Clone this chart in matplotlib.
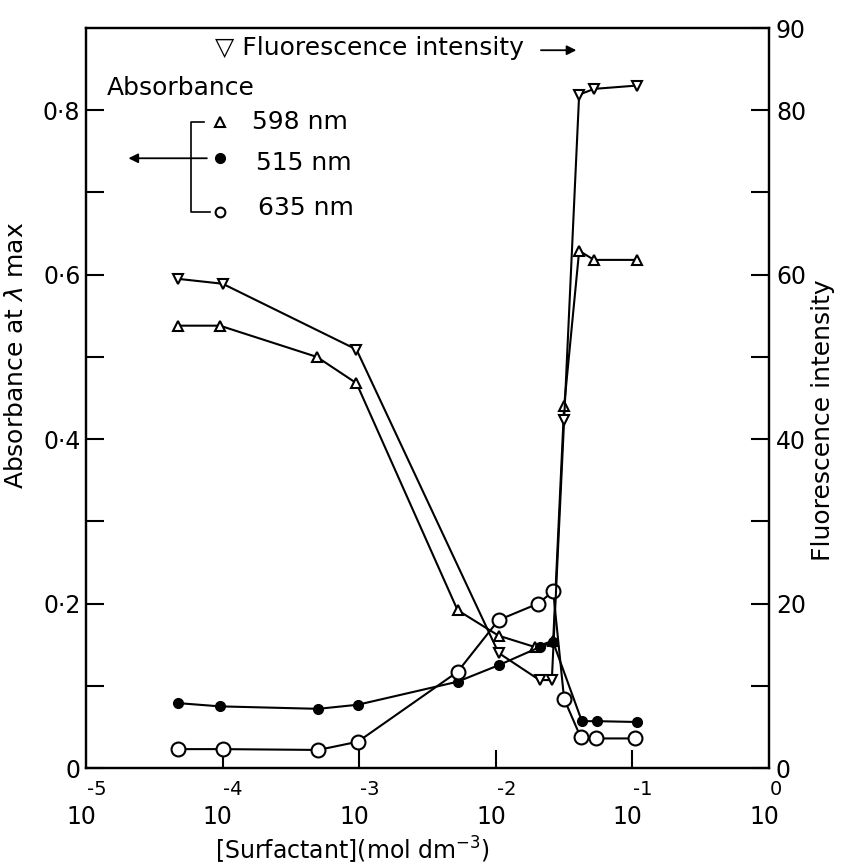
import matplotlib
matplotlib.use("Agg")
import matplotlib.pyplot as plt
import numpy as np

plt.rcParams['font.family'] = ['DejaVu Sans']

# log10 of surfactant concentration (mol dm^-3) and readings
logc_fl = [-4.33, -4.00, -3.02, -1.98, -1.68, -1.59, -1.50, -1.39, -1.28, -0.97]
fluor = [59.5, 58.9, 50.9, 14.0, 10.7, 10.7, 42.3, 81.9, 82.6, 83.0]

logc_598 = [-4.33, -4.02, -3.31, -3.02, -2.28, -1.98, -1.71, -1.58, -1.50, -1.39, -1.28, -0.97]
abs_598 = [0.538, 0.538, 0.500, 0.468, 0.192, 0.161, 0.147, 0.155, 0.440, 0.629, 0.618, 0.618]

logc_515 = [-4.33, -4.02, -3.30, -3.01, -2.28, -1.98, -1.68, -1.58, -1.37, -1.26, -0.97]
abs_515 = [0.079, 0.075, 0.072, 0.077, 0.105, 0.125, 0.147, 0.153, 0.057, 0.057, 0.056]

logc_635 = [-4.33, -4.00, -3.30, -3.01, -2.28, -1.98, -1.69, -1.58, -1.50, -1.38, -1.27, -0.98]
abs_635 = [0.023, 0.023, 0.022, 0.032, 0.117, 0.180, 0.200, 0.215, 0.084, 0.038, 0.036, 0.036]

x_exps = [-5, -4, -3, -2, -1, 0]

fig = plt.figure(figsize=(8.41, 8.65), dpi=100)
ax = fig.add_axes([0.1023, 0.1121, 0.8121, 0.8555])
ax2 = ax.twinx()

lw = 1.5
ax.plot(logc_598, abs_598, '-', color='k', lw=lw, marker='^', ms=7, mfc='white', mec='k', mew=1.5)
ax.plot(logc_515, abs_515, '-', color='k', lw=lw, marker='o', ms=7, mfc='k', mec='k')
ax.plot(logc_635, abs_635, '-', color='k', lw=lw, marker='o', ms=10, mfc='white', mec='k', mew=1.5)
ax2.plot(logc_fl, fluor, '-', color='k', lw=lw, marker='v', ms=7, mfc='white', mec='k', mew=1.5)

ax.set_xlim(-5, 0)
ax.set_ylim(0, 0.9)
ax2.set_ylim(0, 90)

ax.set_yticks([0, 0.2, 0.4, 0.6, 0.8])
ax.set_yticklabels(['0', '0·2', '0·4', '0·6', '0·8'])
ax.set_yticks([0.1, 0.3, 0.5, 0.7], minor=True)
ax2.set_yticks([0, 20, 40, 60, 80, 90])
ax2.set_yticklabels(['0', '20', '40', '60', '80', '90'])
ax2.set_yticks([10, 30, 50, 70], minor=True)

ax.set_xticks([-4, -3, -2, -1])
ax.set_xticklabels([])
ax.tick_params(axis='x', direction='in', length=13, width=1.5)
ax.tick_params(axis='y', which='both', direction='in', length=13, width=1.5, labelsize=17, pad=4)
ax2.tick_params(axis='y', which='both', direction='in', length=13, width=1.5, labelsize=17, pad=5)
for a in (ax, ax2):
    for s in a.spines.values():
        s.set_linewidth(1.6)

# old-style "10 with exponent" tick labels
tr = ax.get_xaxis_transform()
for e in x_exps:
    ax.text(e + 0.005, -0.016, str(e), transform=tr, ha='left', va='top', fontsize=14)
    ax.text(e - 0.035, -0.050, '10', transform=tr, ha='center', va='top', fontsize=17)

ax.text(0.39, -0.090, r'[Surfactant](mol dm$^{-3}$)', transform=ax.transAxes,
        ha='center', va='top', fontsize=17)
ax.set_ylabel(r'Absorbance at $\lambda$ max', fontsize=18)
ax.yaxis.set_label_coords(-0.085, 0.557)
ax2.set_ylabel('Fluorescence intensity', fontsize=18)
ax2.yaxis.set_label_coords(1.062, 0.470)

# key inside the plot
ax.text(0.189, 0.973, '▽ Fluorescence intensity', transform=ax.transAxes,
        ha='left', va='center', fontsize=18)
ax.annotate('', xy=(0.722, 0.970), xytext=(0.662, 0.970), xycoords='axes fraction',
            arrowprops=dict(arrowstyle='-|>', color='k', lw=1.3, mutation_scale=14))
ax.text(0.031, 0.919, 'Absorbance', transform=ax.transAxes, ha='left', va='center', fontsize=18)
ax.plot([0.172, 0.154, 0.154, 0.181], [0.873, 0.873, 0.751, 0.751], '-', color='k', lw=1.2,
        transform=ax.transAxes)
ax.annotate('', xy=(0.058, 0.824), xytext=(0.181, 0.824), xycoords='axes fraction',
            arrowprops=dict(arrowstyle='-|>', color='k', lw=1.3, mutation_scale=14))
ax.plot([0.196], [0.873], marker='^', ms=7, mfc='white', mec='k', mew=1.5, transform=ax.transAxes)
ax.plot([0.196], [0.824], marker='o', ms=7, mfc='k', mec='k', transform=ax.transAxes)
ax.plot([0.196], [0.752], marker='o', ms=7, mfc='white', mec='k', mew=1.5, transform=ax.transAxes)
ax.text(0.243, 0.873, '598 nm', transform=ax.transAxes, ha='left', va='center', fontsize=18)
ax.text(0.249, 0.818, '515 nm', transform=ax.transAxes, ha='left', va='center', fontsize=18)
ax.text(0.252, 0.757, '635 nm', transform=ax.transAxes, ha='left', va='center', fontsize=18)

fig.savefig('out.png', dpi=100)
